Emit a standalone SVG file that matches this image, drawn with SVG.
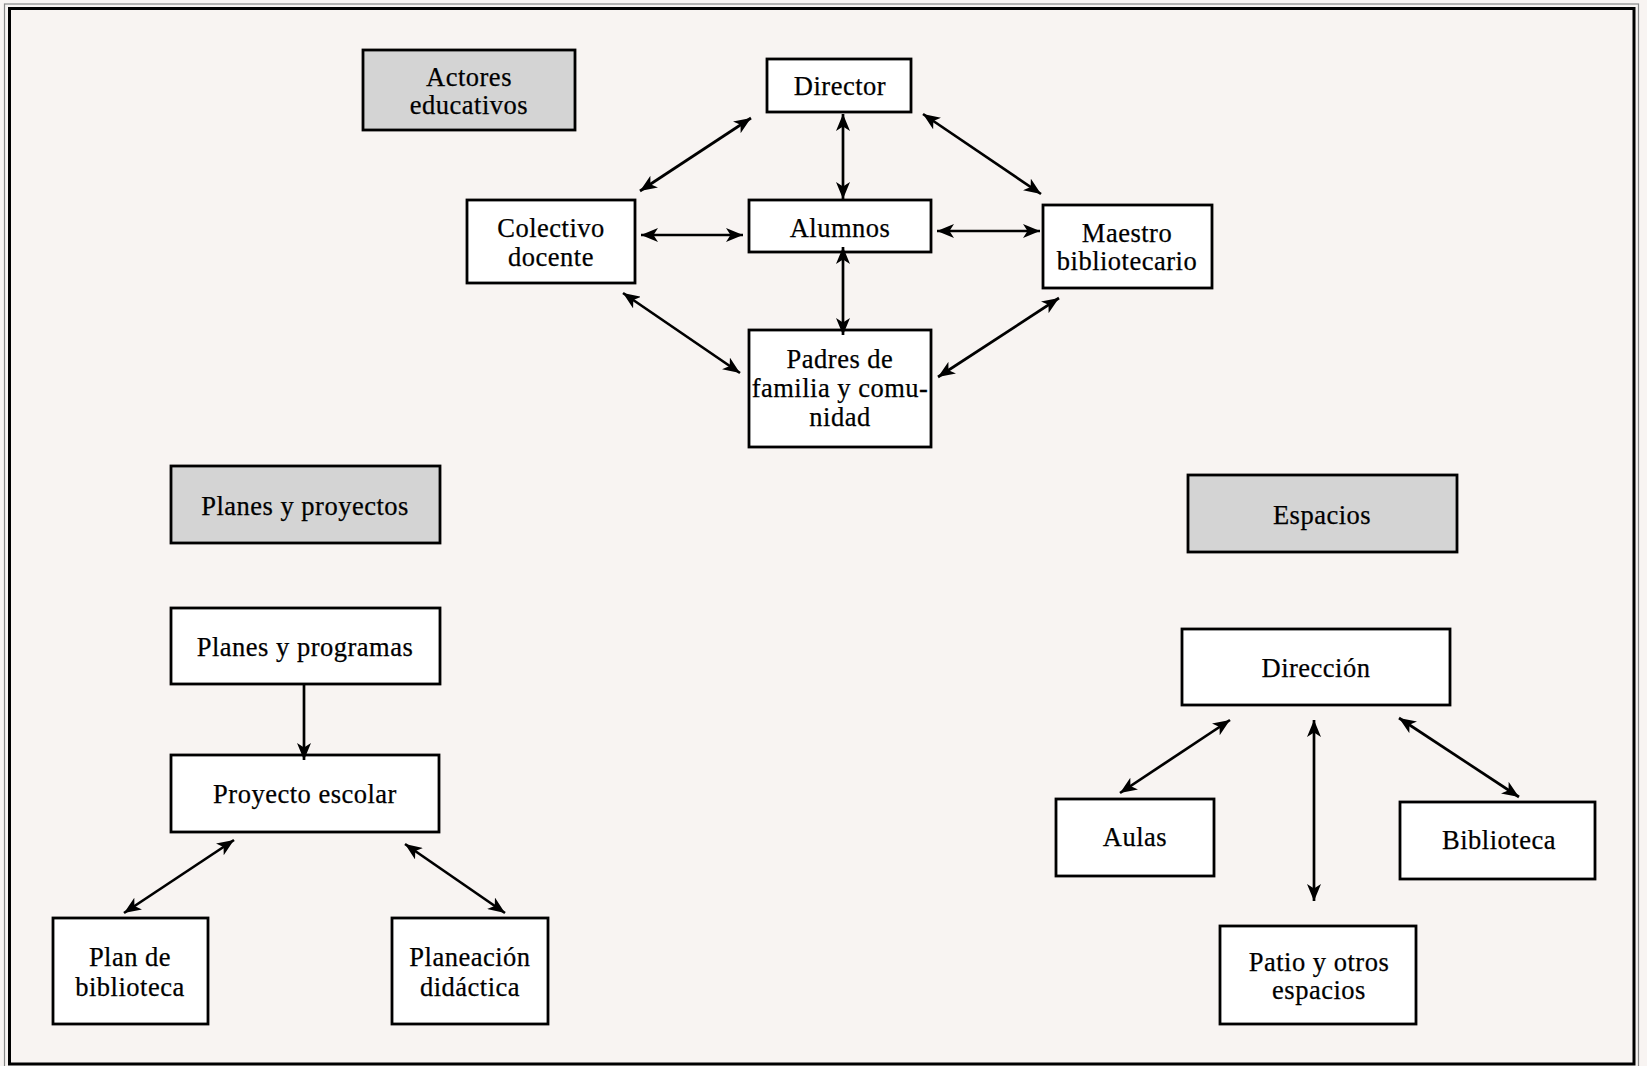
<svg xmlns="http://www.w3.org/2000/svg" width="1647" height="1066" viewBox="0 0 1647 1066">
<defs>
<marker id="ah" markerUnits="userSpaceOnUse" markerWidth="18" markerHeight="14" refX="17" refY="7" orient="auto-start-reverse" viewBox="0 0 18 14">
<path d="M0,0 L17,7 L0,14 L4.5,7 Z" fill="#000"/>
</marker>
</defs>
<style>
.bx{fill:#fff;stroke:#000;stroke-width:2.8}
.hd{fill:#d4d4d4;stroke:#000;stroke-width:2.8}
.t{font-family:"Liberation Serif","Times New Roman",serif;font-size:26.5px;letter-spacing:0.5px;fill:#000;stroke:#000;stroke-width:0.25;text-anchor:middle}
.c{stroke:#000;stroke-width:2.7;fill:none;marker-end:url(#ah)}
.c2{stroke:#000;stroke-width:2.7;fill:none;marker-start:url(#ah);marker-end:url(#ah)}
</style>
<rect x="0" y="0" width="1647" height="1066" fill="#f8f4f2"/>
<rect x="4.5" y="4" width="1634" height="1070" fill="none" stroke="#888" stroke-width="1.2"/>
<rect x="9.5" y="8.5" width="1624.5" height="1055.5" fill="none" stroke="#000" stroke-width="3"/>

<g id="actores"><rect class="hd" x="363" y="50" width="212" height="80"/><text class="t" x="469" y="86">Actores</text><text class="t" x="469" y="114">educativos</text></g>
<g id="director"><rect class="bx" x="767" y="59" width="144" height="53"/><text class="t" x="840" y="95">Director</text></g>
<g id="colectivo"><rect class="bx" x="467" y="200" width="168" height="83"/><text class="t" x="551" y="237">Colectivo</text><text class="t" x="551" y="266">docente</text></g>
<g id="alumnos"><rect class="bx" x="749" y="200" width="182" height="52"/><text class="t" x="840" y="237">Alumnos</text></g>
<g id="maestro"><rect class="bx" x="1043" y="205" width="169" height="83"/><text class="t" x="1127" y="242">Maestro</text><text class="t" x="1127" y="270">bibliotecario</text></g>
<g id="padres"><rect class="bx" x="749" y="330" width="182" height="117"/><text class="t" x="840" y="368">Padres de</text><text class="t" x="840" y="397">familia y comu-</text><text class="t" x="840" y="426">nidad</text></g>

<g id="planes-proyectos"><rect class="hd" x="171" y="466" width="269" height="77"/><text class="t" x="305" y="515">Planes y proyectos</text></g>
<g id="planes-programas"><rect class="bx" x="171" y="608" width="269" height="76"/><text class="t" x="305" y="656">Planes y programas</text></g>
<g id="proyecto"><rect class="bx" x="171" y="755" width="268" height="77"/><text class="t" x="305" y="803">Proyecto escolar</text></g>
<g id="plan-biblioteca"><rect class="bx" x="53" y="918" width="155" height="106"/><text class="t" x="130" y="966">Plan de</text><text class="t" x="130" y="996">biblioteca</text></g>
<g id="planeacion"><rect class="bx" x="392" y="918" width="156" height="106"/><text class="t" x="470" y="966">Planeación</text><text class="t" x="470" y="996">didáctica</text></g>

<g id="espacios"><rect class="hd" x="1188" y="475" width="269" height="77"/><text class="t" x="1322" y="524">Espacios</text></g>
<g id="direccion"><rect class="bx" x="1182" y="629" width="268" height="76"/><text class="t" x="1316" y="677">Dirección</text></g>
<g id="aulas"><rect class="bx" x="1056" y="799" width="158" height="77"/><text class="t" x="1135" y="846">Aulas</text></g>
<g id="biblioteca"><rect class="bx" x="1400" y="802" width="195" height="77"/><text class="t" x="1499" y="849">Biblioteca</text></g>
<g id="patio"><rect class="bx" x="1220" y="926" width="196" height="98"/><text class="t" x="1319" y="971">Patio y otros</text><text class="t" x="1319" y="999">espacios</text></g>

<g id="connectors">
<line class="c2" x1="751" y1="118" x2="640" y2="191"/>
<line class="c2" x1="843" y1="114" x2="843" y2="199"/>
<line class="c2" x1="923" y1="114" x2="1041" y2="194"/>
<line class="c2" x1="641" y1="235" x2="743" y2="235"/>
<line class="c2" x1="937" y1="231" x2="1040" y2="231"/>
<line class="c2" x1="843" y1="247" x2="843" y2="335"/>
<line class="c2" x1="623" y1="293" x2="740" y2="373"/>
<line class="c2" x1="1059" y1="298" x2="938" y2="377"/>
<line class="c" x1="304" y1="685" x2="304" y2="760"/>
<line class="c2" x1="234" y1="840" x2="124" y2="913"/>
<line class="c2" x1="405" y1="844" x2="505" y2="913"/>
<line class="c2" x1="1230" y1="720" x2="1120" y2="793"/>
<line class="c2" x1="1314" y1="720" x2="1314" y2="901"/>
<line class="c2" x1="1399" y1="718" x2="1519" y2="797"/>
</g>
</svg>
